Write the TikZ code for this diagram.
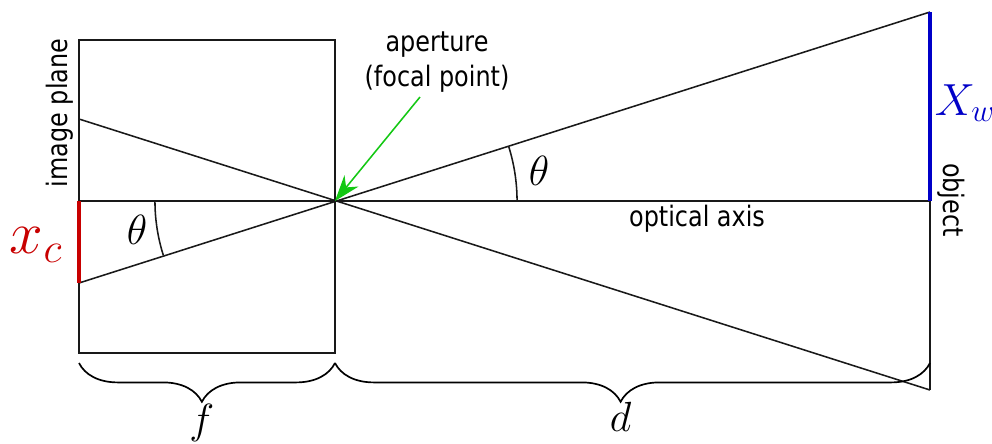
\documentclass[tikz,border=0pt]{standalone}
\usepackage{fix-cm}
\usepackage{fontspec}
\usepackage{tikz}
\usetikzlibrary{arrows.meta,positioning,decorations.pathreplacing}
\newfontfamily\lblfont[FakeStretch=0.85]{DejaVu Sans}
\definecolor{imgred}{RGB}{200,0,0}
\definecolor{objblue}{RGB}{0,0,200}
\definecolor{ptrgreen}{RGB}{20,200,20}

\begin{document}
\begin{tikzpicture}[
  x=0.025cm, y=-0.025cm,
  ray/.style={line width=1.1pt, color=black!90},
  seg/.style={line width=2.2pt, color=#1},
  lbl/.style={font=\lblfont\fontsize{20}{25}\selectfont, align=center, inner sep=0pt},
  sym/.style={font=\fontsize{#1}{#1}\selectfont, inner sep=0pt},
  brc/.style={decorate, decoration={brace, mirror, amplitude=0.97cm, aspect=0.48}, line width=1.2pt},
  ptr/.style={-{Stealth[length=6.5mm, width=4.5mm]}, line width=1.1pt, color=ptrgreen},
]
  \useasboundingbox (0,0) rectangle (992,443);

  \coordinate (boxtl) at (79,40);
  \coordinate (boxbr) at (335,353);
  \coordinate (ap) at (335,201);
  \coordinate (imtop) at (79,119);
  \coordinate (imaxis) at (79,201);
  \coordinate (imbot) at (79,283);
  \coordinate (obtop) at (930,12);
  \coordinate (obaxis) at (930,201);
  \coordinate (obbot) at (930,390);
  \coordinate (ptrtail) at (420,97);
  \coordinate (fl) at (79,363);
  \coordinate (fr) at (335,363);
  \coordinate (dr) at (930,363);

  \draw[ray] (boxtl) rectangle (boxbr);
  \draw[ray] (imaxis) -- (obaxis);
  \draw[ray] (obtop) -- (imbot);
  \draw[ray] (imtop) -- (obbot);
  \draw[ray] (obaxis) -- (obbot);
  \draw[seg=imgred] (imaxis) -- (imbot);
  \draw[seg=objblue] (obtop) -- (obaxis);

  \draw[ray] (ap) ++(180:4.5cm) arc[start angle=180, end angle=197.6, radius=4.5cm];
  \draw[ray] (ap) ++(0:4.55cm) arc[start angle=0, end angle=17.6, radius=4.55cm];

  \node[sym=30] (thl) at (137,230) {$\theta$};
  \node[sym=30] (thr) at (539,171) {$\theta$};
  \node[sym=43, text=imgred] (xc) at (36,245) {$x_c$};
  \node[sym=32, text=objblue] (xw) at (965,103) {$X_w$};

  \node[lbl, rotate=90] (implane) at (60,113) {image plane};
  \node[lbl, rotate=-90] (obj) at (951,200) {object};
  \node[lbl] (axis) at (697,219) {optical axis};
  \node[lbl] (aper) at (437,62) {aperture\\(focal point)};

  \draw[ptr] (ptrtail) -- (ap);

  \draw[brc] (fl) -- (fr) node[sym=30, pos=0.48, below=1cm] (flen) {$f$};
  \draw[brc] (fr) -- (dr) node[sym=30, pos=0.48, below=0.95cm] (dist) {$d$};
\end{tikzpicture}
\end{document}
